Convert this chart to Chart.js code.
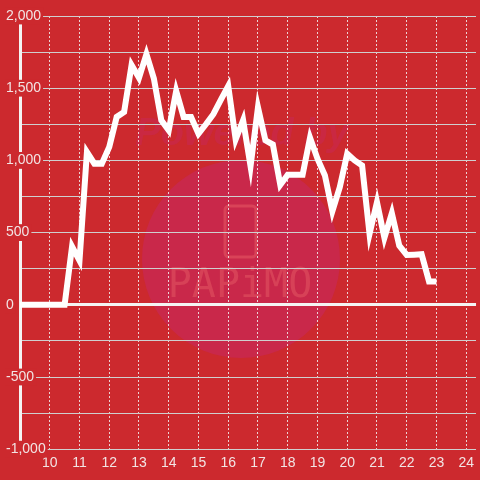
<!DOCTYPE html>
<html>
<head>
<meta charset="utf-8">
<script src="https://cdn.jsdelivr.net/npm/chart.js@4"></script>
<style>
  html, body { margin: 0; padding: 0; background: #cc292e; }
  #wrap { width: 480px; height: 480px; }
</style>
</head>
<body>
<div id="wrap"><canvas id="chart"></canvas></div>
<script>
// quarter-hour readings
const times = [9, 9.25, 9.5, 9.75, 10, 10.25, 10.5, 10.75, 11, 11.25, 11.5, 11.75,
  12, 12.25, 12.5, 12.75, 13, 13.25, 13.5, 13.75, 14, 14.25, 14.5, 14.75,
  15, 15.25, 15.5, 15.75, 16, 16.25, 16.5, 16.75, 17, 17.25, 17.5, 17.75,
  18, 18.25, 18.5, 18.75, 19, 19.25, 19.5, 19.75, 20, 20.25, 20.5, 20.75,
  21, 21.25, 21.5, 21.75, 22, 22.25, 22.5, 22.75, 23];
const values = [0, 0, 0, 0, 0, 0, 0, 403, 306, 1058, 977, 977,
  1093, 1301, 1336, 1660, 1572, 1736, 1567, 1278, 1208, 1481, 1301, 1301,
  1185, 1250, 1320, 1420, 1515, 1145, 1278, 960, 1368, 1139, 1110, 830,
  900, 900, 900, 1157, 1012, 896, 648, 815, 1046, 1000, 965, 491,
  711, 463, 634, 410, 345, 347, 350, 162, 162];

const xTicks = [10, 11, 12, 13, 14, 15, 16, 17, 18, 19, 20, 21, 22, 23, 24];
const yTicks = [-1000, -750, -500, -250, 0, 250, 500, 750, 1000, 1250, 1500, 1750, 2000];

const bg = '#cc292e';

const watermark = {
  id: 'watermark',
  beforeDraw(chart) {
    const ctx = chart.ctx;
    ctx.save();
    ctx.fillStyle = bg;
    ctx.fillRect(0, 0, chart.width, chart.height);
    ctx.fillStyle = '#c9284a';
    ctx.beginPath();
    ctx.arc(241, 259, 99, 0, Math.PI * 2);
    ctx.fill();
    ctx.fillStyle = 'rgba(200, 40, 80, 0.6)';
    ctx.font = 'italic bold 38px "Liberation Sans"';
    ctx.textAlign = 'center';
    ctx.textBaseline = 'middle';
    ctx.fillText('Powered by', 242, 135);
    ctx.strokeStyle = 'rgba(230, 90, 100, 0.55)';
    ctx.lineWidth = 3;
    ctx.beginPath();
    ctx.roundRect(225, 206, 31, 51, 4);
    ctx.stroke();
    ctx.fillStyle = 'rgba(230, 90, 100, 0.5)';
    ctx.font = '40px "DejaVu Sans Mono"';
    ctx.fillText('PAPiMO', 240, 287);
    ctx.restore();
  }
};

new Chart(document.getElementById('chart'), {
  type: 'line',
  data: {
    datasets: [{
      data: times.map((t, i) => ({ x: t, y: values[i] })),
      borderColor: '#ffffff',
      borderWidth: 6,
      borderJoinStyle: 'miter',
      borderCapStyle: 'butt',
      pointRadius: 0,
      tension: 0,
      fill: false
    }]
  },
  options: {
    responsive: true,
    maintainAspectRatio: false,
    animation: false,
    layout: { padding: { left: 20, top: 16, right: 0, bottom: 2 } },
    plugins: { legend: { display: false }, tooltip: { enabled: false } },
    scales: {
      x: {
        type: 'linear',
        min: 9,
        max: 24.33,
        afterBuildTicks: s => { s.ticks = xTicks.map(v => ({ value: v })); },
        grid: { color: 'rgba(240, 240, 240, 0.85)', drawTicks: false },
        border: { display: false, dash: [2, 2] },
        ticks: {
          color: '#f2e4e4',
          padding: 6,
          maxRotation: 0,
          font: { family: '"Liberation Sans"', size: 14 }
        }
      },
      y: {
        min: -1000,
        max: 2000,
        afterBuildTicks: s => { s.ticks = yTicks.map(v => ({ value: v })); },
        afterFit: s => { s.width = 0; },
        grid: {
          drawTicks: false,
          color: c => c.tick.value === 0 ? '#f4f4f4' : '#cfcfcf',
          lineWidth: c => c.tick.value === 0 ? 3 : 1
        },
        border: { color: '#f4f4f4', width: 3 },
        ticks: {
          mirror: true,
          padding: -14,
          color: '#f2e4e4',
          font: { family: '"Liberation Sans"', size: 14 },
          showLabelBackdrop: c => c.tick.value % 500 === 0,
          backdropColor: bg,
          backdropPadding: { left: 1, right: 2, top: 0, bottom: 0 },
          callback: v => v % 500 === 0 ? v.toLocaleString('en-US') : ''
        }
      }
    }
  },
  plugins: [watermark]
});
</script>
</body>
</html>
